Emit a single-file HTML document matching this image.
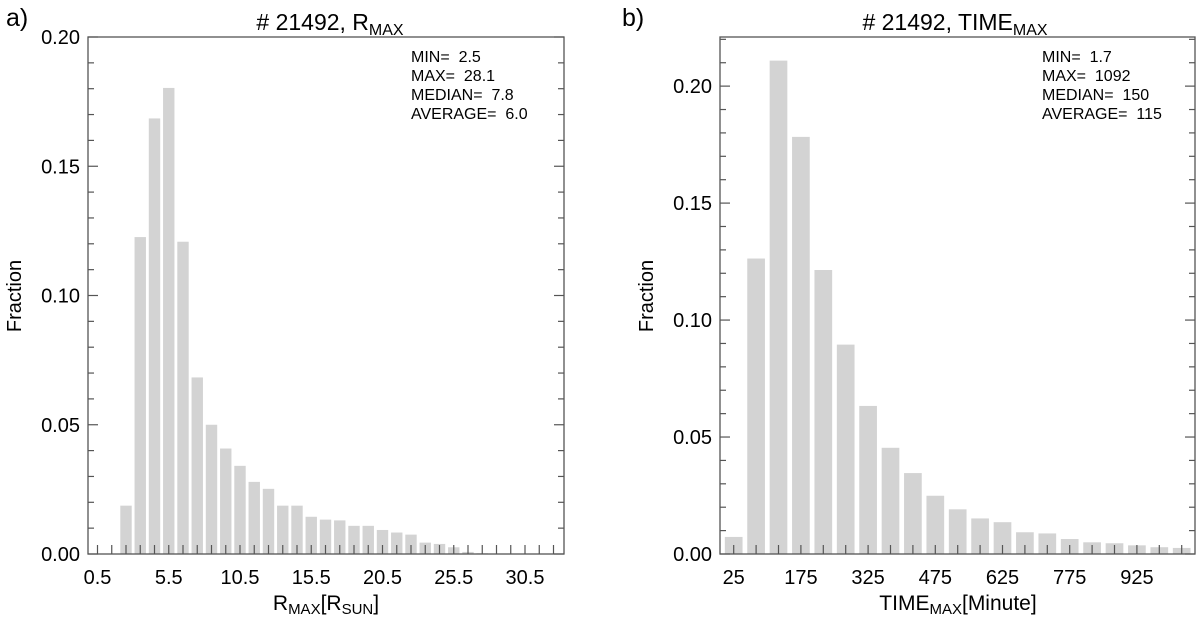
<!DOCTYPE html>
<html><head><meta charset="utf-8"><style>
html,body{margin:0;padding:0;background:#fff}
svg{display:block;font-family:"Liberation Sans",Arial,sans-serif}
</style></head><body>
<svg id="chart" width="1200" height="619" viewBox="0 0 1200 619" xmlns="http://www.w3.org/2000/svg"></svg>
<script>
// Panel a data
const aCenters = [2.5,3.5,4.5,5.5,6.5,7.5,8.5,9.5,10.5,11.5,12.5,13.5,14.5,15.5,16.5,17.5,18.5,19.5,20.5,21.5,22.5,23.5,24.5,25.5,26.5,27.5];
const aValues = [0.0187,0.1226,0.1685,0.1803,0.1208,0.0683,0.0500,0.0408,0.0341,0.0279,0.0252,0.0187,0.0187,0.0144,0.0133,0.0130,0.0109,0.0109,0.0093,0.0083,0.0075,0.0044,0.0039,0.0026,0.0008,0.0003];
const aXTicks = [0.5,5.5,10.5,15.5,20.5,25.5,30.5];
const aYTicks = [0,0.05,0.10,0.15,0.20];
const aYLabels = ["0.00","0.05","0.10","0.15","0.20"];
const aStats = ["MIN=  2.5","MAX=  28.1","MEDIAN=  7.8","AVERAGE=  6.0"];
// Panel b data
const bCenters = [25,75,125,175,225,275,325,375,425,475,525,575,625,675,725,775,825,875,925,975,1025];
const bValues = [0.0073,0.1263,0.2109,0.1783,0.1214,0.0895,0.0633,0.0454,0.0346,0.0249,0.0191,0.0152,0.0136,0.0093,0.0088,0.0064,0.0050,0.0046,0.0037,0.0029,0.0026];
const bXTicks = [25,175,325,475,625,775,925];
const bYTicks = [0,0.05,0.10,0.15,0.20];
const bYLabels = ["0.00","0.05","0.10","0.15","0.20"];
const bStats = ["MIN=  1.7","MAX=  1092","MEDIAN=  150","AVERAGE=  115"];

const NS="http://www.w3.org/2000/svg";
const svg=document.getElementById('chart');
function mk(tag,attrs,parent){const e=document.createElementNS(NS,tag);for(const k in attrs)e.setAttribute(k,attrs[k]);(parent||svg).appendChild(e);return e;}

function panel(o){
  const g=mk('g',{});
  
  
  const L=o.left,R=o.right,T=37,B=554;
  const xs=v=>o.x0+(v-o.v0)*o.pxPerUnit;
  const ys=v=>B-(v/o.ymax)*(B-T);
  o.centers.forEach((c,i)=>{
    const h=B-ys(o.values[i]);
    const r=mk('rect',{x:xs(c)-o.barW/2,y:B-h,width:o.barW,height:h,fill:'#d3d3d3'},g);
    
    
  });
  const f=mk('rect',{x:L,y:T,width:R-L,height:B-T,fill:'none',stroke:'#555','stroke-width':1.3},g);
  
  
  for(let k=0;k*0.01<=o.ymax+1e-9;k++){
    const y=ys(k*0.01);const len=(k%5===0)?10:6;
    mk('line',{x1:L,x2:L+len,y1:y,y2:y,stroke:'#555','stroke-width':1.2},g);
    mk('line',{x1:R,x2:R-len,y1:y,y2:y,stroke:'#555','stroke-width':1.2},g);
  }
  o.yTicks.forEach((v,i)=>{
    const t=mk('text',{x:L-8,y:ys(v)+7,'text-anchor':'end','font-size':20},g);
    t.textContent=o.yLabels[i];
    
    
  });
  for(let v=o.tickStart;xs(v)<R;v+=o.tickStep){
    if(xs(v)<=L)continue;
    mk('line',{x1:xs(v),x2:xs(v),y1:B,y2:B-9,stroke:'#555','stroke-width':1.2},g);
  }
  o.xTicks.forEach(v=>{
    let x=xs(v);x=Math.max(L+5,Math.min(R-24,x));
    const t=mk('text',{x:x,y:584,'text-anchor':'middle','font-size':20},g);
    t.textContent=String(v);
    
    
  });
  o.stats.forEach((s,i)=>{
    const t=mk('text',{x:o.statsX,y:62+i*19,'font-size':16},g);
    t.setAttribute('style','white-space:pre');
    t.textContent=s;
    
    
  });
  const yt=mk('text',{x:0,y:0,'text-anchor':'middle','font-size':20,transform:`translate(${o.yTitleX},296) rotate(-90)`},g);
  yt.textContent='Fraction';
  
  
}

panel({name:'panel-a',left:88,right:564,x0:97.5,v0:0.5,pxPerUnit:14.25,barW:11.4,ymax:0.2,
  centers:aCenters,values:aValues,xTicks:aXTicks,yTicks:aYTicks,yLabels:aYLabels,stats:aStats,
  tickStart:0.5,tickStep:1,statsX:411,yTitleX:21});
panel({name:'panel-b',left:720,right:1195,x0:733.7,v0:25,pxPerUnit:22.4/50,barW:17.7,ymax:0.221,
  centers:bCenters,values:bValues,xTicks:bXTicks,yTicks:bYTicks,yLabels:bYLabels,stats:bStats,
  tickStart:25,tickStep:50,statsX:1042,yTitleX:653});
</script>
<svg style="position:absolute;left:0;top:0" width="1200" height="619" xmlns="http://www.w3.org/2000/svg" font-family="Liberation Sans, Arial, sans-serif">
  <text x="6" y="26" font-size="25">a)</text>
  <text x="330" y="30" font-size="23" text-anchor="middle"># 21492, R<tspan font-size="16" dy="5">MAX</tspan></text>
  <text x="326" y="610" font-size="21" text-anchor="middle">R<tspan font-size="15" dy="4">MAX</tspan><tspan dy="-4">[R</tspan><tspan font-size="15" dy="4">SUN</tspan><tspan dy="-4">]</tspan></text>
  <text x="622" y="26" font-size="25">b)</text>
  <text x="955" y="30" font-size="23" text-anchor="middle"># 21492, TIME<tspan font-size="16" dy="5">MAX</tspan></text>
  <text x="958" y="610" font-size="21" text-anchor="middle">TIME<tspan font-size="15" dy="4">MAX</tspan><tspan dy="-4">[Minute]</tspan></text>
</svg>
</body></html>
